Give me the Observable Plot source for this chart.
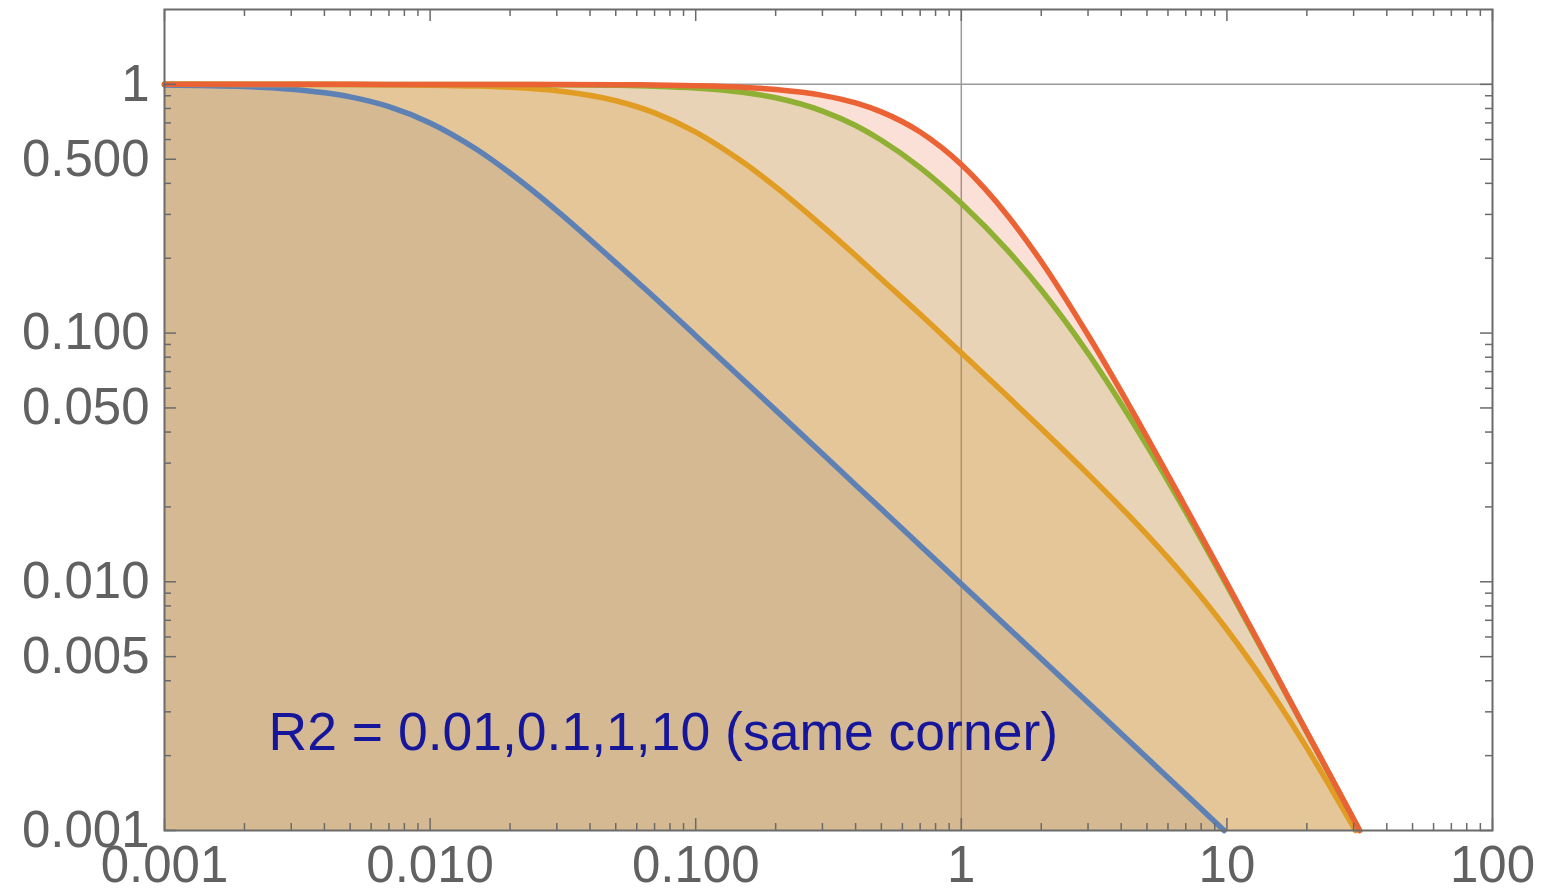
<!DOCTYPE html>
<html>
<head>
<meta charset="utf-8">
<script src="https://cdn.jsdelivr.net/npm/d3@7"></script>
<script src="https://cdn.jsdelivr.net/npm/@observablehq/plot@0.6"></script>
<style>
  html, body { margin: 0; padding: 0; background: #ffffff; }
  #chart svg { display: block; }
</style>
</head>
<body>
<div id="chart"></div>
<script>
// ---- Data (log-log response curves) ----
const freq = [0.001, 0.002, 0.003, 0.005, 0.007, 0.01, 0.015, 0.02, 0.03, 0.05, 0.07,
              0.1, 0.15, 0.2, 0.3, 0.4, 0.5, 0.7, 1, 1.5, 2, 3, 5, 7, 10, 15, 20, 25, 30];

// R2 = 0.01 (blue)
const r2_001_x = [0.001, 0.002, 0.003, 0.005, 0.007, 0.01, 0.015, 0.02, 0.03, 0.05, 0.07,
                  0.1, 0.15, 0.2, 0.3, 0.4, 0.5, 0.7, 1, 1.5, 2, 3, 5, 7, 9.76];
const r2_001_y = [0.995, 0.980, 0.956, 0.891, 0.814, 0.700, 0.547, 0.440, 0.311, 0.192, 0.139,
                  0.0976, 0.0652, 0.0490, 0.0327, 0.0245, 0.0196, 0.0140, 0.0098, 0.00654, 0.00490,
                  0.00327, 0.00196, 0.00140, 0.001];

// R2 = 0.1 (orange)
const r2_01_x = [...freq, 30.5];
const r2_01_y = [1.000, 0.9997, 0.9994, 0.9982, 0.9965, 0.993, 0.9844, 0.973, 0.942, 0.859, 0.768,
                 0.643, 0.488, 0.387, 0.269, 0.205, 0.165, 0.119, 0.0833, 0.0554, 0.0413, 0.0271,
                 0.01547, 0.01034, 0.00643, 0.00348, 0.00215, 0.00144, 0.00103, 0.001];

// R2 = 1 (green)
const r2_1_x = [...freq, 31.55];
const r2_1_y = [1, 1, 1, 0.9999, 0.9998, 0.9996, 0.9992, 0.9986, 0.9969, 0.9914, 0.9833,
                0.9667, 0.929, 0.883, 0.781, 0.683, 0.596, 0.463, 0.333, 0.214, 0.149, 0.0830,
                0.0353, 0.0191, 0.00967, 0.00438, 0.00248, 0.00159, 0.00111, 0.001];

// R2 = 10 (red)
const r2_10_x = [...freq, 31.62];
const r2_10_y = [1, 1, 1, 1, 0.9999, 0.9999, 0.9997, 0.9995, 0.9989, 0.997, 0.9942,
                 0.988, 0.974, 0.954, 0.9035, 0.842, 0.775, 0.643, 0.476, 0.295, 0.194, 0.0982,
                 0.0382, 0.0199, 0.00988, 0.00442, 0.00249, 0.00160, 0.00111, 0.001];

const seriesColors = ["#5E81B5", "#E19C24", "#8FB032", "#EB6235"];

// axes
const xDomain = [0.001, 100];
const yDomain = [0.001, 2];
const xTickValues = [0.001, 0.01, 0.1, 1, 10, 100];
const xTickLabels = ["0.001", "0.010", "0.100", "1", "10", "100"];
const yTickValues = [0.001, 0.005, 0.01, 0.05, 0.1, 0.5, 1];
const yTickLabels = ["0.001", "0.005", "0.010", "0.050", "0.100", "0.500", "1"];
const gridX = [1];
const gridY = [1];

// annotation
const annotation = [{label: "R2 = 0.01,0.1,1,10 (same corner)", x: 0.0755, y: 0.00246}];

// ---- Build ----
const rows = (xs, ys) => xs.map((x, i) => ({x, y: ys[i]}));
const series = [
  rows(r2_001_x, r2_001_y),
  rows(r2_01_x, r2_01_y),
  rows(r2_1_x, r2_1_y),
  rows(r2_10_x, r2_10_y)
];

const W = 1547, H = 891;
const mL = 164, mR = 55, mT = 9, mB = 61;
const plotW = W - mL - mR, plotH = H - mT - mB;
const majorLen = 12, minorLen = 7;

const xAllTicks = d3.scaleLog().domain(xDomain).ticks();
const yAllTicks = d3.scaleLog().domain(yDomain).ticks().filter(d => d <= 1);
const xMinor = xAllTicks.filter(d => !xTickValues.includes(d));
const yMinor = yAllTicks.filter(d => !yTickValues.includes(d));

const tickColor = "#6a6a6a";
const labelColor = "#616161";

const tickMarks = [];
for (const [vals, len] of [[xTickValues, majorLen], [xMinor, minorLen]]) {
  tickMarks.push(Plot.ruleX(vals, {x: d => d, stroke: tickColor, strokeWidth: 1.5, insetTop: plotH - len}));
  tickMarks.push(Plot.ruleX(vals, {x: d => d, stroke: tickColor, strokeWidth: 1.5, insetBottom: plotH - len}));
}
for (const [vals, len] of [[yTickValues, majorLen], [yMinor, minorLen]]) {
  tickMarks.push(Plot.ruleY(vals, {y: d => d, stroke: tickColor, strokeWidth: 1.5, insetRight: plotW - len}));
  tickMarks.push(Plot.ruleY(vals, {y: d => d, stroke: tickColor, strokeWidth: 1.5, insetLeft: plotW - len}));
}

const chart = Plot.plot({
  width: W,
  height: H,
  marginLeft: mL,
  marginRight: mR,
  marginTop: mT,
  marginBottom: mB,
  x: {type: "log", domain: xDomain, label: null},
  y: {type: "log", domain: yDomain, label: null},
  style: {
    fontFamily: "'Liberation Sans', Arial, Helvetica, sans-serif",
    background: "#ffffff",
    overflow: "visible"
  },
  marks: [
    Plot.ruleX(gridX, {x: d => d, stroke: "#9a9a9a", strokeWidth: 1.5}),
    Plot.ruleY(gridY, {y: d => d, stroke: "#9a9a9a", strokeWidth: 1.5}),
    ...series.map((s, i) => Plot.areaY(s, {
      x: "x", y1: yDomain[0], y2: "y", fill: seriesColors[i], fillOpacity: 0.2, curve: "monotone-x"
    })),
    ...series.map((s, i) => Plot.lineY(s, {
      x: "x", y: "y", stroke: seriesColors[i], strokeWidth: 5.5, curve: "monotone-x"
    })),
    Plot.text(annotation, {
      x: "x", y: "y", text: "label", fontSize: 53.5, fill: "#16169a", textAnchor: "middle"
    }),
    ...tickMarks,
    Plot.axisX(xTickValues, {
      anchor: "bottom", label: null, tickSize: 0, tickPadding: 15, fontSize: 51,
      fill: labelColor, tickFormat: d => xTickLabels[xTickValues.indexOf(d)]
    }),
    Plot.axisY(yTickValues, {
      anchor: "left", label: null, tickSize: 0, tickPadding: 15, fontSize: 51,
      fill: labelColor, tickFormat: d => yTickLabels[yTickValues.indexOf(d)]
    }),
    Plot.frame({stroke: "#6b6b6b", strokeWidth: 2})
  ]
});

document.getElementById("chart").appendChild(chart);
</script>
</body>
</html>
